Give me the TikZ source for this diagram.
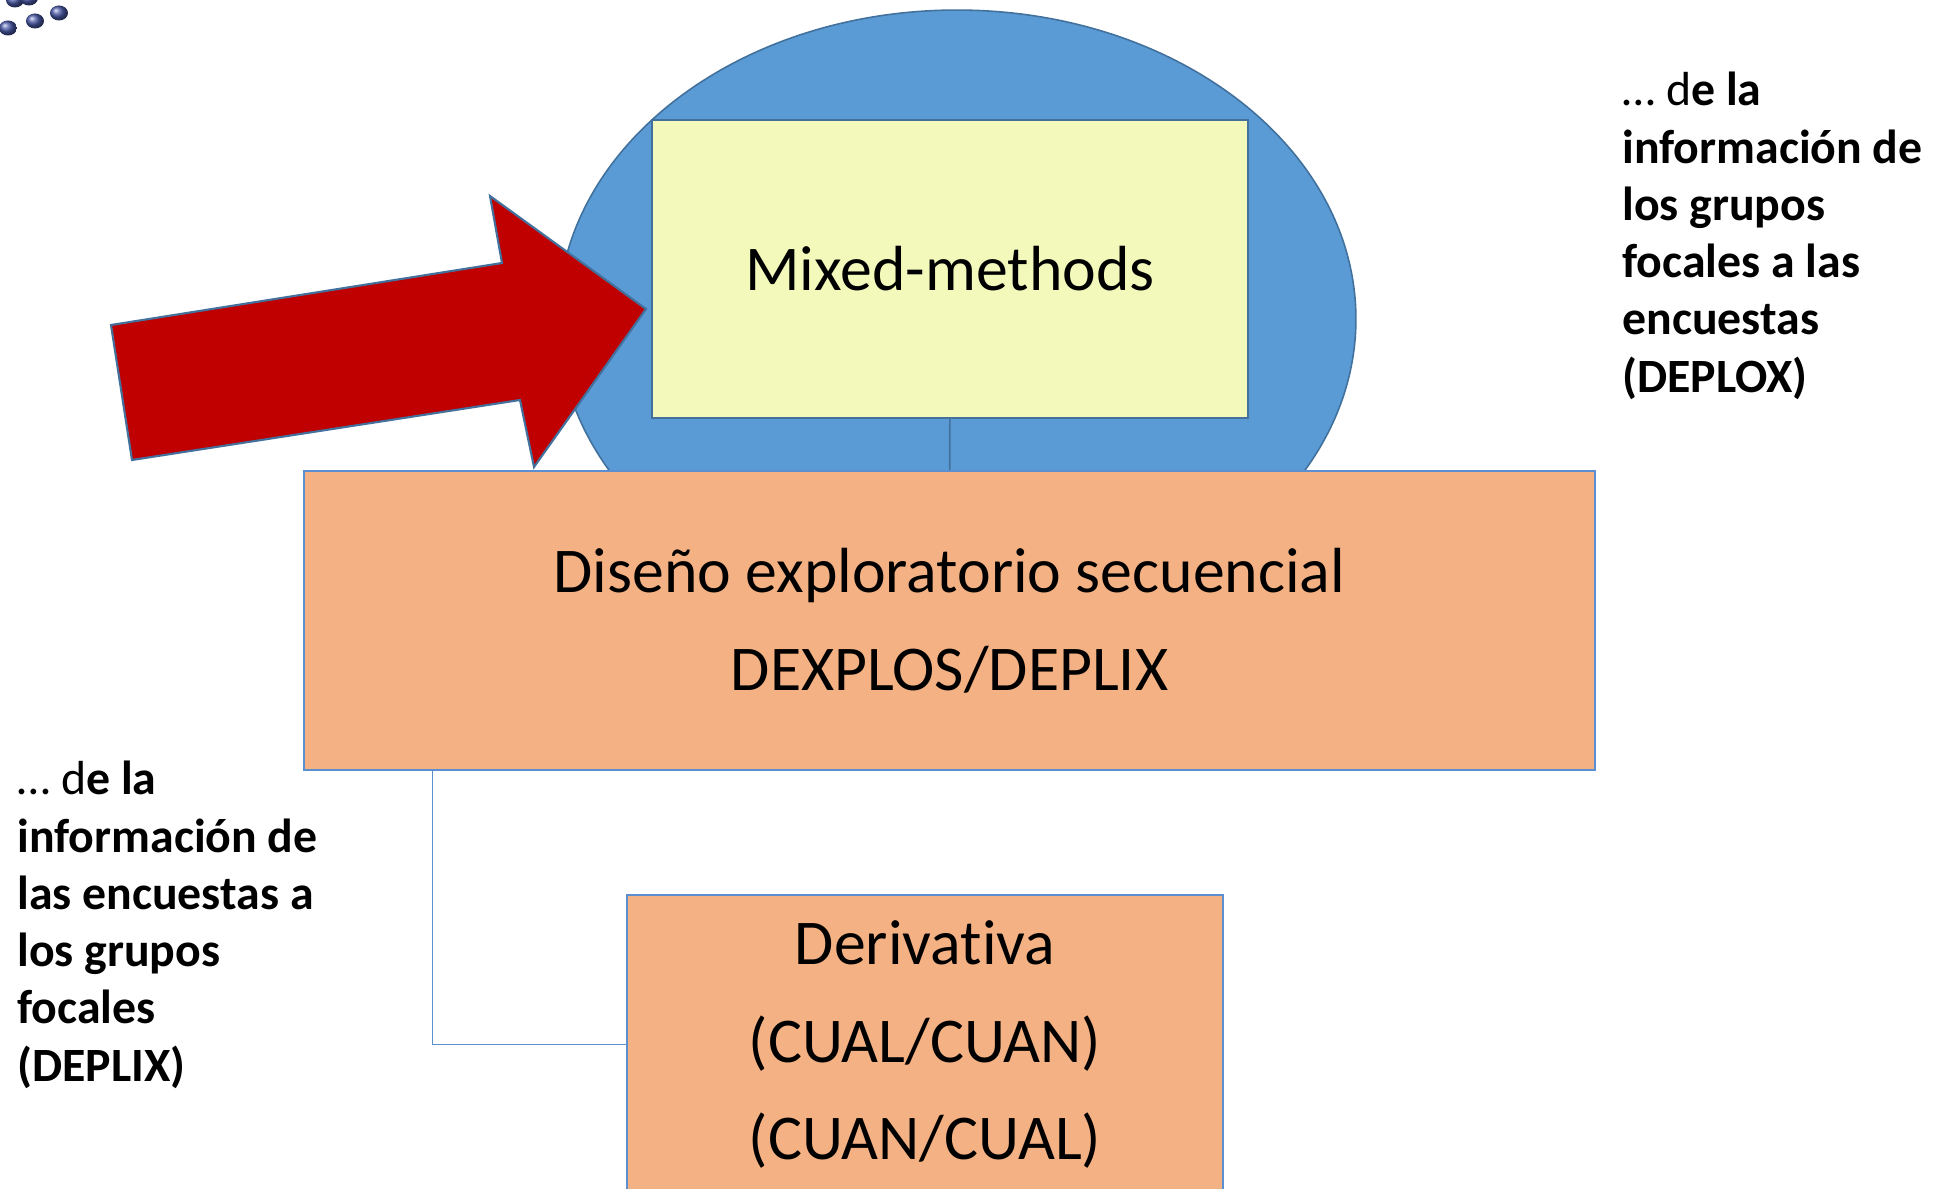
\documentclass[tikz,border=0pt]{standalone}
\usepackage{fontspec}
\setmainfont[Ligatures=NoCommon]{Carlito}
\usepackage{tikz}
\usetikzlibrary{shapes.geometric}
\usetikzlibrary{calc}

\definecolor{ovalblue}{HTML}{5B9BD5}
\definecolor{ovaledge}{HTML}{41719C}
\definecolor{mixfill}{HTML}{F3F9BB}
\definecolor{boxfill}{HTML}{F4B183}
\definecolor{boxline}{HTML}{5B8FCF}
\definecolor{arrowred}{HTML}{C00000}
\definecolor{dotblue}{HTML}{4A5AA8}

\newcommand{\bigtxt}{\fontsize{36.3}{55.6}\selectfont}
\newcommand{\sidetxt}{\fontsize{27.2}{32.6}\selectfont}

\begin{document}
\begin{tikzpicture}[x=0.02cm,y=-0.02cm]
		\useasboundingbox (0,0) rectangle (1937,1189);

		% logo dots
		\shade[ball color=dotblue] (8,28) ellipse [x radius=0.18cm,y radius=0.15cm];
		\shade[ball color=dotblue] (35,21) ellipse [x radius=0.18cm,y radius=0.15cm];
		\shade[ball color=dotblue] (59,13) ellipse [x radius=0.18cm,y radius=0.15cm];
		\shade[ball color=dotblue] (15,0) ellipse [x radius=0.18cm,y radius=0.15cm];
		\shade[ball color=dotblue] (29,-2) ellipse [x radius=0.18cm,y radius=0.15cm];

		\begin{scope}[every node/.style={inner sep=0pt,align=center,font=\bigtxt}]
			\node[ellipse,fill=ovalblue,draw=ovaledge,line width=0.9pt,
				  minimum width=15.96cm,minimum height=12.36cm] (oval) at (957,319) {};
			\node[rectangle,fill=mixfill,draw=ovaledge,line width=0.8pt,
				  minimum width=11.92cm,minimum height=5.96cm] (mixed) at (950,269) {Mixed-methods};
			\node[rectangle,fill=boxfill,draw=boxline,line width=1pt,
				  minimum width=25.82cm,minimum height=5.98cm] (diseno) at (949.5,620.5)
				  {Diseño exploratorio secuencial\\DEXPLOS/DEPLIX};
			\node[rectangle,fill=boxfill,draw=boxline,line width=1pt,
				  minimum width=11.92cm,minimum height=5.98cm] (deriv) at (925,1044.5)
				  {Derivativa\\(CUAL/CUAN)\\(CUAN/CUAL)};
		\end{scope}

		% red arrow
		\filldraw[fill=arrowred,draw=ovaledge,line width=1.2pt,line join=miter]
			(111,325) -- (502,263) -- (490,196) -- (646,309) -- (534,467) -- (520,400) -- (132,460) -- cycle;

		\draw[ovaledge,line width=0.9pt] (mixed) -- (diseno);
		\draw[boxline,line width=1.1pt] ($(diseno.south west)!0.1!(diseno.south east)$) |- (deriv.west);

		\begin{scope}[every node/.style={inner sep=0pt,align=left,anchor=north west,font=\sidetxt}]
			\node (rnote) at (1622,72) {… d\textbf{e la}\\\textbf{información de}\\\textbf{los grupos}\\
				\textbf{focales a las}\\\textbf{encuestas}\\\textbf{(DEPLOX)}};
			\node (lnote) at (17,761) {… d\textbf{e la}\\\textbf{información de}\\\textbf{las encuestas a}\\
				\textbf{los grupos}\\\textbf{focales}\\\textbf{(DEPLIX)}};
		\end{scope}
	\end{tikzpicture}
\end{document}
